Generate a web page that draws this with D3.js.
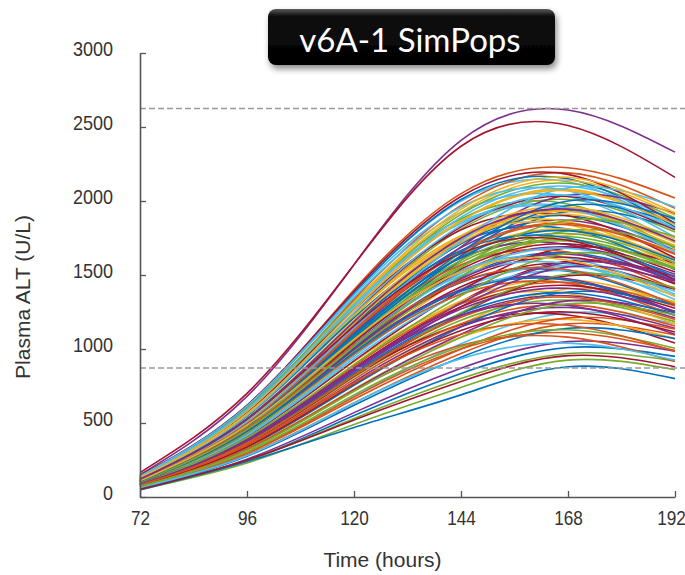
<!DOCTYPE html>
<html>
<head>
<meta charset="utf-8">
<script src="https://cdn.jsdelivr.net/npm/d3@7"></script>
<style>
  html, body { margin: 0; padding: 0; background: #fff; }
  svg { display: block; }
</style>
</head>
<body>
<div id="chart"></div>
<script>
// time points (hours) at which each simulated ALT trajectory was read
const hours = [72, 96, 120, 144, 168, 192];

// plasma ALT (U/L) per simulated individual, one row per curve
const simPops = [
  [100, 445, 1005, 1485, 1650, 1470],
  [140, 610, 1400, 2050, 2225, 2020],
  [75, 340, 765, 1165, 1405, 1320],
  [150, 680, 1570, 2410, 2615, 2330],
  [110, 475, 1075, 1585, 1760, 1565],
  [135, 595, 1305, 1860, 1960, 1665],
  [165, 700, 1570, 2370, 2510, 2160],
  [105, 460, 1015, 1450, 1525, 1295],
  [60, 285, 635, 970, 1170, 1095],
  [130, 560, 1270, 1870, 2080, 1850],
  [115, 505, 1140, 1685, 1870, 1665],
  [80, 360, 810, 1195, 1330, 1185],
  [140, 620, 1380, 2000, 2130, 1810],
  [85, 385, 870, 1320, 1595, 1500],
  [55, 245, 550, 835, 1010, 950],
  [120, 525, 1185, 1745, 1940, 1725],
  [90, 395, 895, 1325, 1470, 1310],
  [115, 515, 1135, 1615, 1705, 1445],
  [125, 545, 1225, 1810, 2010, 1790],
  [65, 300, 680, 1035, 1245, 1170],
  [100, 425, 965, 1420, 1580, 1405],
  [125, 550, 1210, 1720, 1810, 1535],
  [135, 590, 1335, 1970, 2190, 1950],
  [95, 415, 915, 1305, 1375, 1170],
  [105, 455, 1030, 1520, 1690, 1505],
  [50, 230, 490, 740, 925, 860],
  [140, 610, 1350, 1925, 2030, 1720],
  [80, 360, 815, 1240, 1495, 1405],
  [120, 515, 1160, 1710, 1900, 1690],
  [70, 300, 675, 1000, 1110, 990],
  [95, 430, 965, 1470, 1770, 1665],
  [85, 365, 830, 1225, 1360, 1210],
  [130, 570, 1295, 1910, 2120, 1885],
  [110, 490, 1075, 1530, 1615, 1370],
  [85, 370, 820, 1165, 1230, 1040],
  [100, 470, 1055, 1600, 1930, 1815],
  [90, 390, 885, 1305, 1450, 1290],
  [110, 490, 1105, 1630, 1810, 1610],
  [55, 255, 570, 870, 1050, 985],
  [135, 600, 1320, 1880, 1980, 1680],
  [95, 420, 950, 1405, 1560, 1390],
  [90, 410, 920, 1395, 1685, 1580],
  [140, 615, 1375, 2010, 2150, 1825],
  [80, 350, 795, 1170, 1300, 1155],
  [130, 565, 1240, 1765, 1860, 1580],
  [100, 445, 985, 1400, 1475, 1250],
  [55, 245, 530, 800, 970, 920],
  [130, 565, 1280, 1890, 2100, 1870],
  [100, 435, 990, 1460, 1620, 1440],
  [75, 335, 755, 1150, 1385, 1300],
  [115, 500, 1130, 1665, 1850, 1645],
  [75, 325, 730, 1080, 1200, 1070],
  [105, 495, 1110, 1690, 2040, 1915],
  [110, 470, 1060, 1565, 1740, 1550],
  [95, 415, 935, 1375, 1530, 1360],
  [130, 575, 1265, 1805, 1900, 1615],
  [60, 275, 620, 945, 1140, 1070],
  [115, 500, 1100, 1570, 1655, 1405],
  [135, 580, 1305, 1925, 2140, 1905],
  [70, 320, 725, 1100, 1325, 1245],
  [110, 480, 1085, 1600, 1780, 1585],
  [110, 475, 1050, 1495, 1575, 1335],
  [125, 550, 1240, 1825, 2030, 1805],
  [48, 240, 470, 690, 880, 800],
  [100, 440, 965, 1370, 1445, 1225],
  [120, 530, 1195, 1765, 1960, 1745],
  [80, 345, 780, 1150, 1280, 1140],
  [95, 435, 985, 1490, 1800, 1695],
  [105, 455, 1025, 1510, 1680, 1495],
  [145, 620, 1390, 2030, 2180, 1850],
  [85, 375, 840, 1240, 1380, 1230],
  [75, 325, 720, 1025, 1080, 915],
  [120, 515, 1165, 1720, 1910, 1700],
  [80, 375, 850, 1285, 1555, 1460],
  [105, 465, 1055, 1555, 1730, 1540],
  [140, 615, 1365, 1960, 2070, 1755],
  [90, 385, 870, 1285, 1430, 1275],
  [105, 480, 1075, 1630, 1970, 1850],
  [65, 295, 660, 1000, 1210, 1135],
  [125, 560, 1230, 1750, 1840, 1560],
  [100, 445, 1000, 1475, 1640, 1460],
  [80, 365, 820, 1245, 1505, 1415],
  [125, 550, 1245, 1835, 2040, 1815],
  [52, 250, 520, 780, 955, 880],
  [120, 530, 1170, 1665, 1750, 1485],
  [85, 365, 825, 1215, 1350, 1200],
  [120, 520, 1175, 1735, 1930, 1720],
  [85, 385, 865, 1310, 1585, 1490],
  [70, 305, 690, 1015, 1130, 1005],
  [110, 505, 1140, 1730, 2090, 1960],
  [105, 460, 1045, 1540, 1710, 1520],
  [100, 445, 975, 1390, 1465, 1245],
  [115, 495, 1120, 1655, 1840, 1640],
  [135, 585, 1315, 1945, 2160, 1920],
  [90, 395, 865, 1230, 1295, 1100],
  [85, 400, 895, 1360, 1645, 1545],
  [135, 590, 1300, 1850, 1950, 1655],
  [80, 340, 765, 1125, 1250, 1115],
  [110, 485, 1100, 1620, 1800, 1600],
  [105, 465, 1025, 1455, 1535, 1300],
  [130, 560, 1265, 1865, 2070, 1840],
  [85, 380, 860, 1270, 1410, 1255],
  [100, 455, 1020, 1550, 1870, 1760],
  [65, 280, 635, 935, 1040, 925],
  [120, 525, 1155, 1645, 1735, 1470],
  [105, 485, 1090, 1655, 2000, 1880],
  [80, 350, 770, 1100, 1160, 985],
  [110, 485, 1065, 1520, 1600, 1355],
  [120, 525, 1185, 1750, 1945, 1730],
  [70, 315, 715, 1080, 1305, 1230]
];

// reference bounds drawn as dashed lines
const altBounds = [872, 2625];

const xTicks = [72, 96, 120, 144, 168, 192];
const yTicks = [0, 500, 1000, 1500, 2000, 2500, 3000];

// matlab default line order
const lineColors = ["#0072BD", "#D95319", "#EDB120", "#7E2F8E", "#77AC30", "#4DBEEE", "#A2142F"];

const margin = {top: 53, right: 10, bottom: 78, left: 140};
const width = 535;
const height = 444;

const svg = d3.select("#chart")
  .append("svg")
    .attr("width", width + margin.left + margin.right)
    .attr("height", height + margin.top + margin.bottom);

const g = svg.append("g")
    .attr("transform", "translate(" + margin.left + "," + margin.top + ")");

const x = d3.scaleLinear().domain([72, 192]).range([0, width]);
const y = d3.scaleLinear().domain([0, 3000]).range([height, 0]);

const line = d3.line()
    .x((d, i) => x(hours[i]))
    .y(d => y(d))
    .curve(d3.curveNatural);

g.append("g").selectAll("path")
  .data(simPops)
  .join("path")
    .attr("d", d => line(d))
    .attr("fill", "none")
    .attr("stroke", (d, i) => lineColors[i % lineColors.length])
    .attr("stroke-width", 1.6);

// dashed bounds
g.append("g").selectAll("line")
  .data(altBounds)
  .join("line")
    .attr("x1", 0)
    .attr("x2", width + margin.right)
    .attr("y1", d => y(d))
    .attr("y2", d => y(d))
    .attr("stroke", "#999")
    .attr("stroke-width", 1.6)
    .attr("stroke-dasharray", "6,3");

// axes, ticks pointing inward
const xAxis = g.append("g")
    .attr("transform", "translate(0," + height + ")")
    .call(d3.axisBottom(x).tickValues(xTicks).tickSizeInner(-6).tickSizeOuter(0).tickPadding(14));

const yAxis = g.append("g")
    .call(d3.axisLeft(y).tickValues(yTicks).tickFormat(d3.format("d")).tickSizeInner(-6).tickSizeOuter(0).tickPadding(27));

[xAxis, yAxis].forEach(a => {
  a.select(".domain").attr("stroke", "#555").attr("stroke-width", 1.6);
  a.selectAll(".tick line").attr("stroke", "#555").attr("stroke-width", 1.3);
  a.selectAll(".tick text")
    .attr("fill", "#333")
    .style("font-family", "'Liberation Sans', Arial, sans-serif")
    .style("font-size", "20px");
});
xAxis.selectAll(".tick text").attr("transform", "scale(0.86,1)");
// last label sits at the figure edge
xAxis.selectAll(".tick text").filter(d => d === 192).attr("text-anchor", "end").attr("dx", "12");
yAxis.selectAll(".tick text").attr("dy", "0.1em").attr("transform", "scale(0.9,1)").attr("x", -30);

g.append("text")
    .attr("x", width / 2 - 25)
    .attr("y", height + 70)
    .attr("text-anchor", "middle")
    .attr("fill", "#333")
    .style("font-family", "'Liberation Sans', Arial, sans-serif")
    .style("font-size", "21px")
    .text("Time (hours)");

g.append("text")
    .attr("transform", "translate(" + (-110) + "," + (height / 2 + 22) + ") rotate(-90)")
    .attr("text-anchor", "middle")
    .attr("fill", "#333")
    .style("font-family", "'Liberation Sans', Arial, sans-serif")
    .style("font-size", "21px")
    .text("Plasma ALT (U/L)");

// title badge
const defs = svg.append("defs");
const grad = defs.append("linearGradient").attr("id", "badge").attr("x1", 0).attr("y1", 0).attr("x2", 0).attr("y2", 1);
grad.append("stop").attr("offset", "0%").attr("stop-color", "#5a5a5a");
grad.append("stop").attr("offset", "12%").attr("stop-color", "#111");
grad.append("stop").attr("offset", "100%").attr("stop-color", "#000");
const shadow = defs.append("filter").attr("id", "shadow").attr("x", "-10%").attr("y", "-20%").attr("width", "130%").attr("height", "160%");
shadow.append("feDropShadow").attr("dx", 2).attr("dy", 4).attr("stdDeviation", 3).attr("flood-color", "#000").attr("flood-opacity", 0.45);

svg.append("rect")
    .attr("x", 268).attr("y", 9)
    .attr("width", 287).attr("height", 56)
    .attr("rx", 8)
    .attr("fill", "url(#badge)")
    .attr("filter", "url(#shadow)");

svg.append("text")
    .attr("x", 410).attr("y", 52)
    .attr("text-anchor", "middle")
    .attr("fill", "#fff")
    .style("font-family", "Lato, 'Open Sans', sans-serif")
    .style("font-size", "33px")
    .text("v6A-1 SimPops");
</script>
</body>
</html>
